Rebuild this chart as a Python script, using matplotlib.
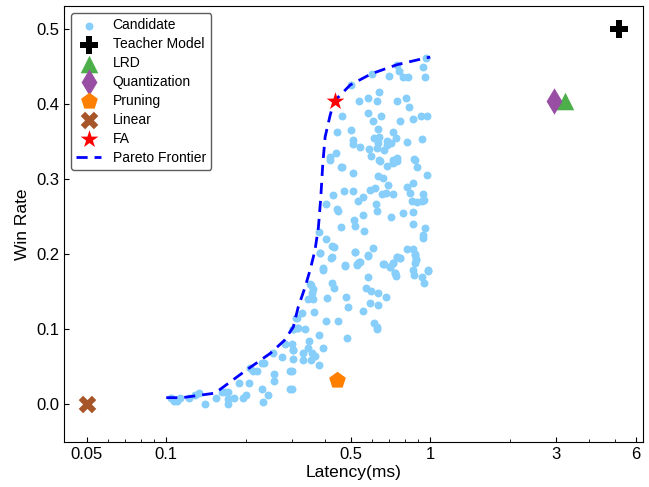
import numpy as np
import matplotlib
matplotlib.use("Agg")
import matplotlib.pyplot as plt
from matplotlib.ticker import FixedLocator, FixedFormatter, NullFormatter

plt.rcParams['font.family'] = ['Liberation Sans', 'DejaVu Sans']

# candidate models (latency in ms, win rate)
cand_lat = [
    .104, .107, .11, .113, .122, .128, .133, .14, .154, .163, .167, .171, .171, .171,
    .18, .188, .196, .2, .205, .208, .214, .221, .231, .235, .231, .254, .256, .256,
    .275, .282, .295, .295, .303, .303, .313, .31, .393, .354, .36, .357, .345, .36,
    .327, .363, .313, .303, .316, .336, .425, .432, .407, .404, .448, .48, .489, .38,
    .348, .33, .345, .357, .367, .393, .354, .33, .303, .303, .38, .3, .3, .485,
    .58, .572, .597, .635, .68, .593, .635, .557, .614, .63, .63, .737, .743, .87,
    .932, .949, .983, .706, .885, .877, .769, .75, .67, .725, .53, .543, .476, .425,
    .393, .383, .52, .58, .244, .233, .3, .351,
    .418, .463, .51, .647, .685, .725, .75, .877, .89, .974, .635, .664, .693, .818,
    .862, .43, .47, .51, .593, .619, .658, .68, .72, .84, .94, .404, .534, .557,
    .855, .89, .932, .949, .444, .448, .557, .624, .63, .712, .79, .862, .514, .52,
    .46, .562, .862, .957, .94, .94, .38, .404, .425, .432, .383, .421, .52, .607,
    .58, .538, .53, .476, .664, .706, .725, .75, .769, .818, .862, .877, .885, .877,
    .862, .983, .737,
    .965, .94, .957, .75, .763, .79, .825, .7, .6, .503, .641, .538, .58, .63,
    .75, .81, .833, .463, .58, .607, .652, .769, .862, .925, .974, .444, .503, .635,
    .725, .51, .51, .543, .614, .63, .641, .635, .685, .712, .743, .818, .932, .587,
    .63, .67, .685, .597, .641, .725, .75, .87, .418, .46, .441,
]
cand_wr = [
    .009, .005, .004, .009, .009, .013, .015, .001, .009, .016, .017, .016, .007, .001,
    .008, .029, .009, .012, .029, .049, .045, .044, .055, .055, .021, .069, .04, .031,
    .063, .08, .044, .021, .072, .1, .101, .115, .179, .159, .153, .148, .14, .14,
    .121, .123, .115, .1, .101, .1, .161, .155, .141, .111, .111, .143, .129, .092,
    .084, .069, .075, .069, .065, .075, .059, .059, .072, .06, .052, .045, .021, .088,
    .169, .155, .151, .148, .143, .135, .132, .124, .108, .103, .1, .175, .171, .172,
    .169, .161, .177, .183, .192, .199, .195, .196, .187, .188, .185, .189, .185, .196,
    .181, .201, .203, .199, .012, .003, .081, .16,
    .325, .316, .308, .324, .317, .321, .324, .325, .316, .305, .304, .301, .292, .289,
    .295, .279, .284, .284, .285, .288, .28, .281, .28, .281, .28, .267, .271, .276,
    .271, .269, .271, .272, .26, .257, .252, .267, .257, .249, .255, .256, .245, .237,
    .236, .231, .24, .235, .225, .221, .229, .22, .211, .209, .201, .195, .203, .208,
    .197, .189, .187, .184, .187, .183, .188, .196, .195, .207, .207, .2, .193, .188,
    .179, .179, .175,
    .461, .449, .436, .451, .444, .435, .436, .437, .44, .425, .416, .403, .407, .403,
    .404, .407, .396, .384, .388, .377, .383, .377, .38, .383, .383, .363, .365, .367,
    .363, .352, .347, .343, .355, .353, .356, .348, .351, .348, .355, .349, .353, .34,
    .341, .339, .345, .331, .325, .325, .328, .327, .329, .316, .335,
]

# pareto frontier
front_lat = [0.100, 0.115, 0.153, 0.20, 0.248, 0.28, 0.303, 0.316, 0.335, 0.351,
             0.366, 0.377, 0.385, 0.392, 0.40, 0.418, 0.432, 0.498, 0.60, 0.75,
             0.965, 1.0]
front_wr = [0.009, 0.009, 0.015, 0.045, 0.068, 0.085, 0.103, 0.129, 0.155, 0.179,
            0.205, 0.235, 0.275, 0.321, 0.356, 0.385, 0.403, 0.425, 0.44, 0.452,
            0.461, 0.462]

# other methods
methods = ["Teacher Model", "LRD", "Quantization", "Pruning", "Linear", "FA"]
method_lat = [5.2, 3.25, 2.95, 0.444, 0.05, 0.437]
method_wr = [0.5, 0.403, 0.403, 0.032, 0.0, 0.403]
markers = ["P", "^", "d", "p", "X", "*"]
colors = ["black", "#4daf4a", "#984ea3", "#ff7f00", "#a65628", "red"]
sizes = [170, 160, 180, 160, 160, 180]

xticks = [0.05, 0.1, 0.5, 1, 3, 6]

fig = plt.figure(figsize=(6.49, 4.87), dpi=100)
ax = fig.add_axes([0.0986, 0.0924, 0.8922, 0.8953])

ax.scatter(cand_lat, cand_wr, s=22, color="#87cefa", label="Candidate", zorder=2)
for name, x, y, m, c, s in zip(methods, method_lat, method_wr, markers, colors, sizes):
    ax.scatter([x], [y], marker=m, s=s, color=c, label=name, zorder=4, linewidths=0)
ax.plot(front_lat, front_wr, "--", color="blue", lw=2, dashes=(4, 2.5),
        label="Pareto Frontier", zorder=3)

ax.set_xscale("log")
ax.set_xlim(0.041, 6.4)
ax.set_ylim(-0.05, 0.53)
ax.xaxis.set_major_locator(FixedLocator(xticks))
ax.xaxis.set_major_formatter(FixedFormatter([str(t) for t in xticks]))
ax.xaxis.set_minor_formatter(NullFormatter())
ax.set_yticks([0.0, 0.1, 0.2, 0.3, 0.4, 0.5])
ax.tick_params(direction="in", labelsize=12)
ax.tick_params(which="minor", direction="in")
ax.set_xlabel("Latency(ms)", fontsize=12.5, labelpad=2)
ax.set_ylabel("Win Rate", fontsize=12.5, labelpad=4)

leg = ax.legend(loc="upper left", fontsize=10, frameon=True, edgecolor="#333333",
                handletextpad=0.8, borderpad=0.4, labelspacing=0.35, handlelength=1.8)

fig.savefig("out.png", dpi=100)
